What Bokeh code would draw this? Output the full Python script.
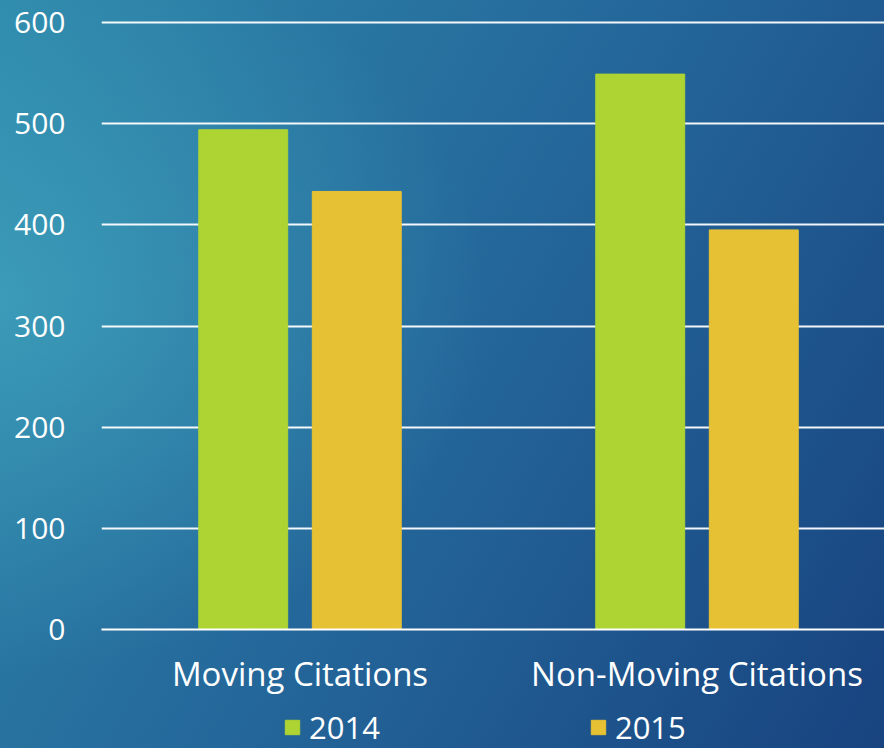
import numpy as np
from bokeh.plotting import figure
from bokeh.layouts import column
from bokeh.models import FixedTicker, Legend, LegendItem
from bokeh.embed import file_html
from bokeh.resources import INLINE

categories = ["Moving Citations", "Non-Moving Citations"]
series_names = ["2014", "2015"]
values_2014 = [494, 549]
values_2015 = [433, 395]
y_ticks = [0, 100, 200, 300, 400, 500, 600]

colors = ["#ADD433", "#E7C134"]
FONT = "Open Sans"

H1, H2 = 698, 50

p = figure(width=884, height=H1, output_backend="svg", toolbar_location=None,
           x_range=(0, 783 / 397), y_range=(0, 602),
           min_border_left=101, min_border_right=0, min_border_top=20,
           min_border_bottom=H1 - 629)
p.background_fill_alpha = 0
p.border_fill_alpha = 0
p.outline_line_color = None

idx = np.arange(len(categories)) + 0.5
offsets = [-0.143, 0.143]
for vals, off, col in zip([values_2014, values_2015], offsets, colors):
    p.vbar(x=idx + off, top=vals, width=0.224, fill_color=col, line_color=col)

# axes
p.xaxis.ticker = FixedTicker(ticks=list(idx))
p.xaxis.major_label_overrides = {float(i): c for i, c in zip(idx, categories)}
p.xaxis.axis_line_color = "white"
p.xaxis.axis_line_width = 2
p.xaxis.major_tick_line_color = None
p.xaxis.minor_tick_line_color = None
p.xaxis.major_label_text_color = "white"
p.xaxis.major_label_text_font = FONT
p.xaxis.major_label_text_font_size = "33px"
p.xaxis.major_label_standoff = 15

p.yaxis.ticker = FixedTicker(ticks=y_ticks)
p.yaxis.axis_line_color = None
p.yaxis.major_tick_line_color = None
p.yaxis.minor_tick_line_color = None
p.yaxis.major_label_text_color = "white"
p.yaxis.major_label_text_font = FONT
p.yaxis.major_label_text_font_size = "30px"
p.yaxis.major_label_standoff = 30

p.xgrid.grid_line_color = None
p.ygrid.grid_line_color = "white"
p.ygrid.grid_line_width = 2
p.ygrid.grid_line_alpha = 0.95

# legend strip below the chart (its frame aligns with the chart's frame)
p2 = figure(width=884, height=H2, output_backend="svg", toolbar_location=None,
            x_range=(0, 1), y_range=(0, 1),
            min_border=0)
p2.background_fill_alpha = 0
p2.border_fill_alpha = 0
p2.outline_line_color = None
p2.axis.visible = False
p2.grid.visible = False
# legend swatch renderers: one off-range bar each so the legend can draw its swatch
leg_renderers = [p2.vbar(x=[5], top=[5], width=0.1, fill_color=c, line_color=c) for c in colors]

legend = Legend(items=[LegendItem(label=n, renderers=[r], index=0) for n, r in zip(series_names, leg_renderers)],
                orientation="horizontal", location=(182, 0))
legend.background_fill_alpha = 0
legend.border_line_color = None
legend.label_text_color = "white"
legend.label_text_font = FONT
legend.label_text_font_size = "31px"
legend.glyph_width = 18
legend.glyph_height = 18
legend.label_standoff = 8
legend.spacing = 209
legend.padding = 0
legend.margin = 0
p2.add_layout(legend, "center")

layout = column(p, p2, spacing=0)
layout.styles = {
    "background": "radial-gradient(ellipse 55% 50% at 0% 40%, rgba(72,178,198,0.55), rgba(72,178,198,0) 100%), "
                  "linear-gradient(120deg, #2E88AB 0%, #24679A 50%, #18437F 100%)",
}

open("out.html", "w").write(file_html(layout, INLINE))
